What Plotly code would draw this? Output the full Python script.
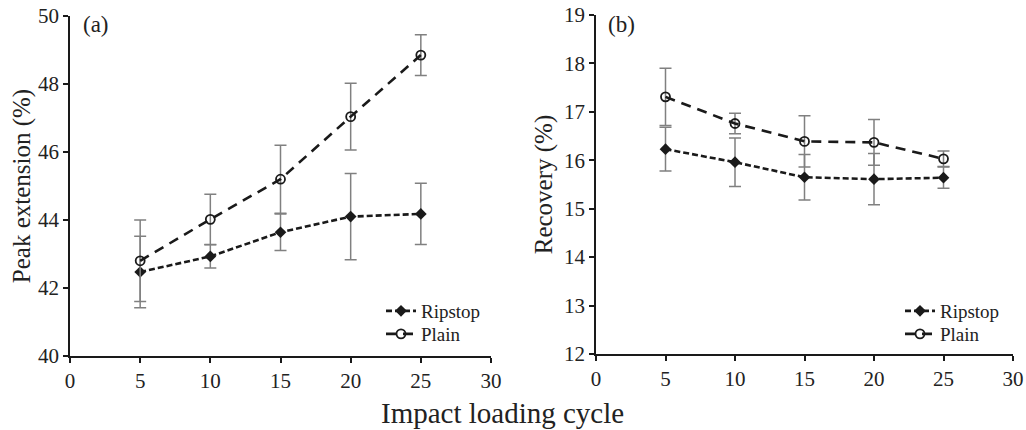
import plotly.graph_objects as go

# ---------------- data ----------------
cycles = [5, 10, 15, 20, 25]

# Panel (a) Peak extension (%)
peak_ripstop = [42.47, 42.93, 43.64, 44.10, 44.18]
peak_ripstop_err = [1.05, 0.34, 0.54, 1.27, 0.90]
peak_plain = [42.80, 44.02, 45.20, 47.04, 48.85]
peak_plain_err = [1.20, 0.74, 1.00, 0.98, 0.60]

# Panel (b) Recovery (%)
rec_ripstop = [16.23, 15.96, 15.65, 15.61, 15.64]
rec_ripstop_err = [0.45, 0.50, 0.47, 0.53, 0.22]
rec_plain = [17.31, 16.76, 16.39, 16.37, 16.03]
rec_plain_err = [0.59, 0.21, 0.53, 0.47, 0.16]

x_ticks = [0, 5, 10, 15, 20, 25, 30]
peak_ticks = [40, 42, 44, 46, 48, 50]
rec_ticks = [12, 13, 14, 15, 16, 17, 18, 19]

FONT = "Liberation Serif"
INK = "#1a1a1a"
TXT = "#222222"
ERR = "#808080"

W, H = 1026, 430

fig = go.Figure()

def add_pair(xa, ya, rip, rip_err, pla, pla_err, leg_r, leg_p):
    fig.add_trace(go.Scatter(
        x=cycles, y=rip, name="Ripstop", mode="lines+markers",
        xaxis=xa, yaxis=ya, legend=leg_r, showlegend=True,
        line=dict(color=INK, width=2.6, dash="6px,3px"),
        marker=dict(symbol="diamond", size=9, color=INK),
        error_y=dict(type="data", array=rip_err, visible=True,
                     color=ERR, thickness=1.5, width=6),
    ))
    fig.add_trace(go.Scatter(
        x=cycles, y=pla, name="Plain", mode="lines+markers",
        xaxis=xa, yaxis=ya, legend=leg_p, showlegend=True,
        line=dict(color=INK, width=2.6, dash="10px,7px"),
        marker=dict(symbol="circle-open", size=9, color=INK,
                    line=dict(width=1.8, color=INK)),
        error_y=dict(type="data", array=pla_err, visible=True,
                     color=ERR, thickness=1.5, width=6),
    ))

add_pair("x", "y", peak_ripstop, peak_ripstop_err, peak_plain, peak_plain_err,
         "legend", "legend2")
add_pair("x2", "y2", rec_ripstop, rec_ripstop_err, rec_plain, rec_plain_err,
         "legend3", "legend4")

axis_common = dict(
    showline=True, linecolor=INK, linewidth=1.6,
    ticks="outside", ticklen=5, tickwidth=1.6, tickcolor=INK,
    showgrid=False, zeroline=False, automargin=False,
    ticklabeloverflow="allow",
    tickfont=dict(family=FONT, size=21, color=TXT),
)

def leg(left_px, top_px):
    return dict(x=left_px / W, y=1 - top_px / H, xanchor="left", yanchor="top",
                bgcolor="rgba(0,0,0,0)", borderwidth=0, tracegroupgap=0,
                visible=True,
                font=dict(family=FONT, size=19, color=TXT))

fig.update_layout(
    width=W, height=H, autosize=False, showlegend=True,
    margin=dict(l=0, r=0, t=0, b=0, pad=0),
    paper_bgcolor="white", plot_bgcolor="white",
    font=dict(family=FONT, color=TXT),
    xaxis=dict(domain=[70 / W, 491 / W], anchor="y", range=[0, 30],
               tickvals=x_ticks, **axis_common),
    yaxis=dict(domain=[1 - 356 / H, 1 - 16 / H], anchor="x", range=[40, 50],
               tickvals=peak_ticks,
               title=dict(text="Peak extension (%)", standoff=0,
                          font=dict(family=FONT, size=25, color=TXT)),
               **axis_common),
    xaxis2=dict(domain=[596 / W, 1013 / W], anchor="y2", range=[0, 30],
                tickvals=x_ticks, **axis_common),
    yaxis2=dict(domain=[1 - 354 / H, 1 - 15 / H], anchor="x2", range=[12, 19],
                tickvals=rec_ticks,
                title=dict(text="Recovery (%)", standoff=4,
                           font=dict(family=FONT, size=25, color=TXT)),
                **axis_common),
    legend=leg(381, 292),
    legend2=leg(381, 315),
    legend3=leg(900, 292),
    legend4=leg(900, 315),
    annotations=[
        dict(text="(a)", x=81 / W, y=1 - 25 / H, xref="paper", yref="paper",
             xanchor="left", yanchor="middle", showarrow=False,
             font=dict(family=FONT, size=23, color=TXT)),
        dict(text="(b)", x=606 / W, y=1 - 24 / H, xref="paper", yref="paper",
             xanchor="left", yanchor="middle", showarrow=False,
             font=dict(family=FONT, size=23, color=TXT)),
        dict(text="Impact loading cycle", x=502 / W, y=1 - 413 / H,
             xref="paper", yref="paper", xanchor="center", yanchor="middle",
             showarrow=False, font=dict(family=FONT, size=29, color=TXT)),
    ],
)

# remove the page's default 8px body margin so the figure fills the window
fig.write_html("out.html",
               config={"displayModeBar": False},
               post_script="document.body.style.margin='0';"
                           "document.body.style.overflow='hidden';")
